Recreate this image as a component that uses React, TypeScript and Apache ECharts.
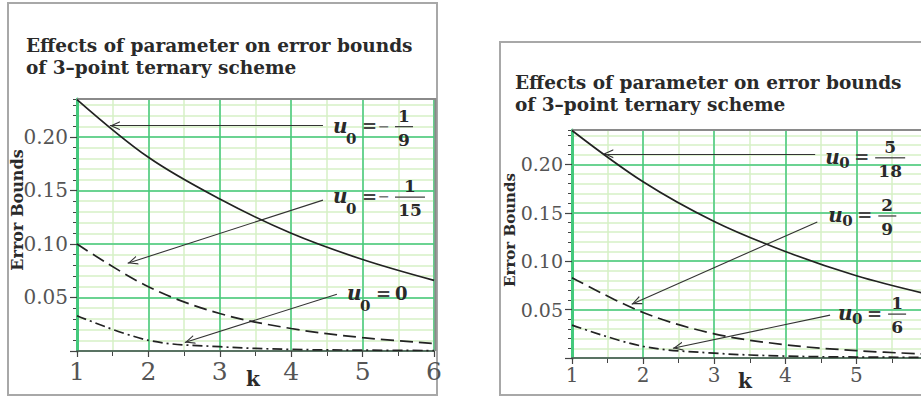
import React, { useEffect, useRef } from 'react';
import * as echarts from 'echarts';

// Iteration level k on the horizontal axis
const kValues = [1, 2, 3, 4, 5, 6];
const K_MIN = 1;
const K_MAX = 6;
const BOUND_MAX = 0.2355;

// Error bounds, first panel (u0 = -1/9, -1/15, 0)
const leftSolid = [0.235, 0.181, 0.142, 0.11, 0.0855, 0.066];
const leftDashed = [0.1, 0.06, 0.035, 0.021, 0.0125, 0.007];
const leftDashDot = [0.033, 0.01, 0.004, 0.0015, 0.0008, 0.0004];

// Error bounds, second panel (u0 = 5/18, 2/9, 1/6)
const rightSolid = [0.235, 0.182, 0.141, 0.11, 0.085, 0.066];
const rightDashed = [0.083, 0.047, 0.025, 0.0137, 0.0076, 0.004];
const rightDashDot = [0.034, 0.012, 0.005, 0.002, 0.001, 0.0007];

// Pointer arrows: [tail k, tail value, head k, head value]
const leftArrows = [
  [4.445, 0.2106, 1.46, 0.2106],
  [4.445, 0.141, 1.71, 0.082],
  [4.64, 0.053, 2.51, 0.008],
];
const rightArrows = [
  [4.42, 0.2109, 1.44, 0.2109],
  [4.45, 0.1405, 1.84, 0.0556],
  [4.63, 0.0443, 2.42, 0.01],
];

// Parameter labels
type Lab = { sign?: string; num?: string; den?: string; value?: string };
const leftLabels: Lab[] = [
  { sign: '−', num: '1', den: '9' },
  { sign: '−', num: '1', den: '15' },
  { value: '0' },
];
const rightLabels: Lab[] = [
  { num: '5', den: '18' },
  { num: '2', den: '9' },
  { num: '1', den: '6' },
];

const titleLines = ['Effects of parameter on error bounds', 'of 3–point ternary scheme'];

const SERIF = '"DejaVu Serif", "Liberation Serif", serif';
const MAJOR_GREEN = '#44c97c';
const MINOR_GREEN = '#d6f0c6';
const INK = '#222';

const chevron = 'path://M5,10L10,20L8.6,20L5,12.6L1.4,20L0,20Z M5,0L5.01,0L5,0.01Z';

function pairs(vals: number[]) {
  return kValues.map((k, i) => [k, vals[i]]);
}

function axesFor(gi: number, xFont: number, yFont: number, xMargin: number) {
  const xMinor = {
    type: 'value', gridIndex: gi, position: 'bottom', min: K_MIN, max: K_MAX, interval: 0.5,
    axisLine: { show: false, onZero: false },
    axisTick: { show: true, length: 5, lineStyle: { color: '#444', width: 1 } },
    axisLabel: { show: false },
    splitLine: { show: true, lineStyle: { color: MINOR_GREEN, width: 1.5 } },
  };
  const xMajor = {
    type: 'value', gridIndex: gi, position: 'bottom', min: K_MIN, max: K_MAX, interval: 1, z: 3,
    axisLine: { show: true, onZero: false, lineStyle: { color: '#555', width: 1.5 } },
    axisTick: { show: true, length: 6, lineStyle: { color: '#444', width: 1.2 } },
    axisLabel: { show: true, fontFamily: SERIF, fontSize: xFont, color: '#555', margin: xMargin },
    splitLine: { show: true, lineStyle: { color: MAJOR_GREEN, width: 1.5 } },
  };
  const yMinor = {
    type: 'value', gridIndex: gi, position: 'left', min: 0, max: BOUND_MAX, interval: 0.01,
    axisLine: { show: false, onZero: false },
    axisTick: { show: true, length: 4, lineStyle: { color: '#444', width: 1 } },
    axisLabel: { show: false },
    splitLine: { show: true, lineStyle: { color: MINOR_GREEN, width: 1.5 } },
  };
  const yMajor = {
    type: 'value', gridIndex: gi, position: 'left', min: 0, max: BOUND_MAX, interval: 0.05, z: 3,
    axisLine: { show: true, onZero: false, lineStyle: { color: MAJOR_GREEN, width: 3 } },
    axisTick: { show: true, length: 7, lineStyle: { color: '#444', width: 1.2 } },
    axisLabel: {
      show: true, fontFamily: SERIF, fontSize: yFont, color: '#555', margin: 9,
      showMaxLabel: false,
      formatter: (v: number) => {
        const r = Math.round(v * 100) / 100;
        if (r <= 0 || Math.abs(v - r) > 1e-6 || Math.round(r * 100) % 5 !== 0) return '';
        return r.toFixed(2);
      },
    },
    splitLine: { show: true, lineStyle: { color: MAJOR_GREEN, width: 1.5 } },
  };
  return { xMinor, xMajor, yMinor, yMajor };
}

function curveSeries(xi: number, yi: number, vals: number[], dash: number[] | 'solid', arrows?: number[][]) {
  const s: any = {
    type: 'line', xAxisIndex: xi, yAxisIndex: yi, data: pairs(vals),
    smooth: 0.35, showSymbol: false, symbol: 'none', z: 5,
    lineStyle: { color: INK, width: 1.7, type: dash },
  };
  if (arrows) {
    s.markLine = {
      silent: true, animation: false,
      symbol: ['none', chevron], symbolSize: [9, 20],
      label: { show: false },
      lineStyle: { color: '#333', width: 1.1, type: 'solid' },
      emphasis: { disabled: true },
      data: arrows.map((a) => [{ coord: [a[0], a[1]] }, { coord: [a[2], a[3]] }]),
    };
  }
  return s;
}

function text(x: number, y: number, str: string, font: string, fill = '#2a2a2a', align = 'left', z = 20) {
  return {
    type: 'text', x, y, z,
    style: { text: str, font, fill, align, verticalAlign: 'middle', textAlign: align, textVerticalAlign: 'middle' },
  };
}

function mathLabel(ax: number, ay: number, lab: Lab, subDx: number, subDy: number) {
  const els: any[] = [];
  els.push(text(ax, ay, 'u', `italic bold 20px ${SERIF}`));
  els.push(text(ax + subDx, ay + subDy, '0', `bold 15px ${SERIF}`));
  els.push(text(ax + 29, ay, '=', `bold 18px ${SERIF}`, '#444'));
  let x = ax + 45;
  if (lab.sign) {
    els.push(text(x, ay, lab.sign, `bold 14px ${SERIF}`, '#777'));
    x += 17;
  } else {
    x += 5;
  }
  if (lab.value) {
    els.push(text(ax + 48, ay, lab.value, `bold 18px ${SERIF}`));
  } else {
    const w = (lab.den || '').length > 1 ? 30 : 18;
    els.push({ type: 'line', z: 20, shape: { x1: x, y1: ay + 1, x2: x + w, y2: ay + 1 }, style: { stroke: '#444', lineWidth: 1.3 } });
    els.push(text(x + w / 2, ay - 10, lab.num || '', `bold 17px ${SERIF}`, '#2a2a2a', 'center'));
    els.push(text(x + w / 2, ay + 14, lab.den || '', `bold 17px ${SERIF}`, '#2a2a2a', 'center'));
  }
  return els;
}

export default function App() {
  const ref = useRef<HTMLDivElement>(null);

  useEffect(() => {
    if (!ref.current) return;
    const chart = echarts.init(ref.current, undefined, { renderer: 'svg' });
    const A = axesFor(0, 25, 20, 8);
    const B = axesFor(1, 20, 19, 7);

    chart.setOption({
      animation: false,
      grid: [
        { left: 77, top: 99, width: 357, height: 252, show: true, borderColor: '#8a8a8a', borderWidth: 1.5, backgroundColor: '#fff' },
        { left: 572, top: 130, width: 355.5, height: 228, show: true, borderColor: '#8a8a8a', borderWidth: 1.5, backgroundColor: '#fff' },
      ],
      xAxis: [A.xMinor, A.xMajor, B.xMinor, B.xMajor],
      yAxis: [A.yMinor, A.yMajor, B.yMinor, B.yMajor],
      series: [
        curveSeries(1, 1, leftSolid, 'solid', leftArrows),
        curveSeries(1, 1, leftDashed, [13, 6]),
        curveSeries(1, 1, leftDashDot, [10, 4, 2, 4]),
        curveSeries(3, 3, rightSolid, 'solid', rightArrows),
        curveSeries(3, 3, rightDashed, [13, 6]),
        curveSeries(3, 3, rightDashDot, [10, 4, 2, 4]),
      ],
    });

    const graphics: any[] = [];
    // outer frames
    graphics.push({ type: 'rect', z: 1, shape: { x: 8, y: 3, width: 429, height: 392 }, style: { fill: 'none', stroke: '#a8a8a8', lineWidth: 2 } });
    graphics.push({ type: 'rect', z: 1, shape: { x: 500, y: 42, width: 440, height: 353 }, style: { fill: 'none', stroke: '#a8a8a8', lineWidth: 2 } });

    // grey top/right edge of each plot box
    [1, 3].forEach((ai) => {
      const tl = chart.convertToPixel({ xAxisIndex: ai, yAxisIndex: ai }, [K_MIN, BOUND_MAX]) as number[];
      const br = chart.convertToPixel({ xAxisIndex: ai, yAxisIndex: ai }, [K_MAX, 0]) as number[];
      graphics.push({
        type: 'polyline', z: 4,
        shape: { points: [[tl[0], tl[1]], [br[0] + 1.5, tl[1]], [br[0] + 1.5, br[1]]] },
        style: { fill: 'none', stroke: '#8a8a8a', lineWidth: 2 },
      });
    });

    // titles
    titleLines.forEach((t, i) => {
      graphics.push(text(26, 45 + i * 22, t, `bold 18.5px ${SERIF}`, '#2a2a2a'));
      graphics.push(text(515, 82 + i * 22, t, `bold 18.5px ${SERIF}`, '#2a2a2a'));
    });
    // axis names
    graphics.push({ ...text(17, 210, 'Error Bounds', `bold 16px ${SERIF}`, '#2a2a2a', 'center'), rotation: Math.PI / 2 });
    graphics.push({ ...text(510, 230, 'Error Bounds', `bold 15px ${SERIF}`, '#2a2a2a', 'center'), rotation: Math.PI / 2 });
    graphics.push(text(253, 379, 'k', `bold 20px ${SERIF}`, '#2a2a2a', 'center'));
    graphics.push(text(745, 381, 'k', `bold 20px ${SERIF}`, '#2a2a2a', 'center'));

    // parameter labels anchored at the arrow tails
    const leftOff = [[10, 0], [10, -4], [10, -1]];
    const rightOff = [[10, 3], [11, -7], [8, -2]];
    leftArrows.forEach((a, i) => {
      const p = chart.convertToPixel({ xAxisIndex: 1, yAxisIndex: 1 }, [a[0], a[1]]) as number[];
      graphics.push(...mathLabel(p[0] + leftOff[i][0], p[1] + leftOff[i][1], leftLabels[i], 13, 13));
    });
    rightArrows.forEach((a, i) => {
      const p = chart.convertToPixel({ xAxisIndex: 3, yAxisIndex: 3 }, [a[0], a[1]]) as number[];
      graphics.push(...mathLabel(p[0] + rightOff[i][0], p[1] + rightOff[i][1], rightLabels[i], 14, 6));
    });

    chart.setOption({ graphic: graphics });
    return () => chart.dispose();
  }, []);

  return (
    <div style={{ position: 'fixed', left: 0, top: 0, width: 921, height: 396, overflow: 'hidden', background: '#fff' }}>
      <div ref={ref} style={{ width: 940, height: 396 }} />
    </div>
  );
}
